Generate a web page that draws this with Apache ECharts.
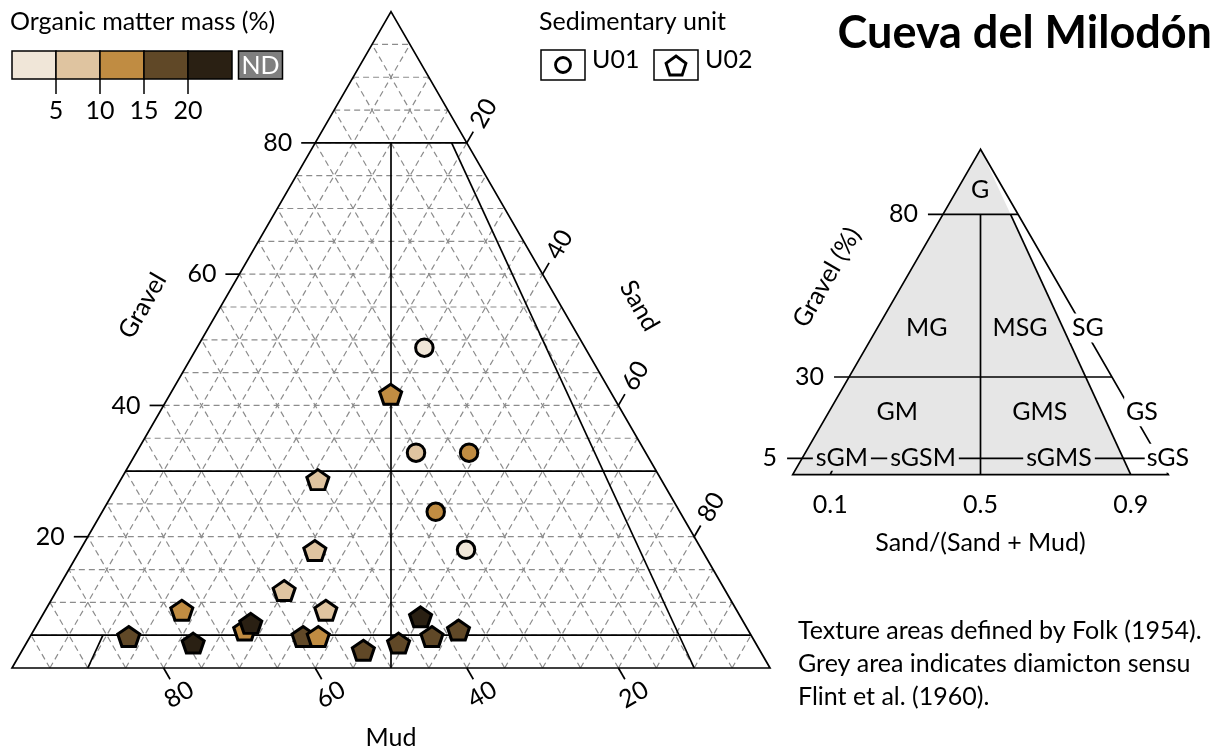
<!DOCTYPE html>
<html><head><meta charset="utf-8">
<script src="https://cdn.jsdelivr.net/npm/echarts@6/dist/echarts.min.js"></script>
<style>html,body{margin:0;padding:0;background:#fff}#c{width:1225px;height:753px}</style>
</head><body><div id="c"></div>
<script>
// ---------------- data ----------------
const gravelTicks = [20, 40, 60, 80];
const sandTicks = [20, 40, 60, 80];
const mudTicks = [80, 60, 40, 20];
const gridStep = 5;
const folkGravelLevels = [80, 30, 5];
const folkRatioLines = [[0.1, 5, 0], [0.5, 80, 0], [0.9, 80, 0]]; // ratio, gravel from, gravel to
const folkTickLabels = [80, 30, 5];
const ratioTicks = [0.1, 0.5, 0.9];
const folkClasses = ['G', 'MG', 'MSG', 'SG', 'GM', 'GMS', 'GS', 'sGM', 'sGSM', 'sGMS', 'sGS'];
const omBreaks = [5, 10, 15, 20];
const omColors = ['#f0e6d8', '#dfc4a0', '#c08c42', '#604827', '#2a2013'];
const ndColor = '#7f7f7f';
const unitNames = ['U01', 'U02'];

// U01 (circles): gravel, sand, mud (%), organic matter (%)
const u01Gravel = [48.8, 32.8, 32.8, 23.8, 18.0];
const u01Sand   = [30.0, 36.9, 43.9, 44.0, 50.9];
const u01Mud    = [21.2, 30.3, 23.3, 32.2, 31.1];
const u01OM     = [3, 7, 12, 12, 3];

// U02 (pentagons)
const u02Gravel = [41.7, 28.7, 17.9, 11.8, 8.8, 8.8, 4.8, 3.8, 5.8, 6.8, 4.8, 4.8, 2.7, 3.8, 7.8, 4.8, 5.8];
const u02Sand   = [29.1, 26.0, 31.0, 30.0, 37.0, 18.0, 13.0, 22.0, 27.8, 28.1, 36.0, 38.0, 45.0, 49.1, 50.0, 53.0, 56.0];
const u02Mud    = [29.2, 45.3, 51.1, 58.2, 54.2, 73.2, 82.2, 74.2, 66.4, 65.1, 59.2, 57.2, 52.3, 47.1, 42.2, 42.2, 38.2];
const u02OM     = [12, 7, 7, 7, 7, 12, 17, 22, 12, 22, 17, 12, 17, 17, 22, 17, 17];

// ---------------- layout ----------------
const FONT = 'Lato';
const FS = 25;
const MAIN = {left: 12, top: 11.6, width: 758, height: 656.4};
const FOLK = {left: 792.7, top: 149.3, width: 375.6, height: 325.3};
// label anchors for Folk classes, in Folk axis units [base position, gravel]
const folkClassPos = {G:[49.9,87.5], MG:[35.7,45.1], MSG:[60.5,45.1], SG:[78.6,45.1], GM:[27.8,19.3], GMS:[65.8,19.3], GS:[93.0,19.3], sGM:[13.1,5], sGSM:[34.7,5], sGMS:[70.9,5], sGS:[99.9,5]};
const GREY_FILL = '#e6e6e6';
const LW = 1.7;

function toXY(g, s, m) {
  const t = g + s + m;
  return [(s + g / 2) / t * 100, g / t * 100];
}
const C60 = 0.5, S60 = Math.sqrt(3) / 2;

function L(p1, p2, style) {
  return {type: 'line', shape: {x1: p1[0], y1: p1[1], x2: p2[0], y2: p2[1]}, style: style};
}
function T(x, y, text, o) {
  o = o || {};
  const st = {
    text: String(text), fill: '#000',
    font: (o.bold ? 'bold ' : '') + (o.size || FS) + 'px ' + FONT,
    align: o.align || 'center', verticalAlign: o.va || 'middle',
    textAlign: o.align || 'center', textVerticalAlign: o.va || 'middle'
  };
  if (o.bg) { st.backgroundColor = o.bg; st.padding = o.pad || [0, 3]; }
  return {type: 'text', x: x, y: y, rotation: o.rot || 0, z2: 20, style: st};
}

function mainRender(params, api) {
  const P = (g, s) => api.coord([s + g / 2, g]);
  const ch = [];
  const dash = {stroke: '#8c8c8c', lineWidth: 1.2, lineDash: [6, 4]};
  const solid = {stroke: '#000', lineWidth: LW};
  for (let k = gridStep; k < 100; k += gridStep) {
    ch.push(L(P(k, 0), P(k, 100 - k), dash));          // gravel = k
    ch.push(L(P(0, k), P(100 - k, k), dash));          // sand = k
    ch.push(L(P(0, 100 - k), P(100 - k, 0), dash));    // mud = k
  }
  // Folk boundaries
  folkGravelLevels.forEach(g => ch.push(L(P(g, 0), P(g, 100 - g), solid)));
  folkRatioLines.forEach(r => ch.push(L(P(r[1], r[0] * (100 - r[1])), P(r[2], r[0] * (100 - r[2])), solid)));
  // frame
  ch.push({type: 'polygon', shape: {points: [P(100, 0), P(0, 0), P(0, 100)]}, style: {fill: 'none', stroke: '#000', lineWidth: LW}});
  // gravel ticks
  gravelTicks.forEach(g => {
    const p = P(g, 0);
    ch.push(L([p[0] - 14, p[1]], p, solid));
    ch.push(T(p[0] - 23, p[1], g, {align: 'right'}));
  });
  // mud ticks
  mudTicks.forEach(m => {
    const p = P(0, 100 - m);
    ch.push(L(p, [p[0] + 13 * C60, p[1] + 13 * S60], solid));
    ch.push(T(p[0] + 31 * C60, p[1] + 31 * S60, m, {rot: Math.PI / 6}));
  });
  // sand ticks
  sandTicks.forEach(s => {
    const p = P(100 - s, s);
    ch.push(L(p, [p[0] + 13 * C60, p[1] - 13 * S60], solid));
    ch.push(T(p[0] + 34 * C60, p[1] - 34 * S60, s, {rot: Math.PI / 3}));
  });
  // axis titles
  let p = P(50, 0);
  ch.push(T(p[0] - 68 * S60, p[1] - 68 * C60, 'Gravel', {rot: Math.PI / 3}));
  p = P(50, 50);
  ch.push(T(p[0] + 68 * S60, p[1] - 68 * C60, 'Sand', {rot: -Math.PI / 3}));
  p = P(0, 50);
  ch.push(T(p[0], p[1] + 70, 'Mud'));
  return {type: 'group', children: ch};
}

function folkRender(params, api) {
  const P = (g, s) => api.coord([s + g / 2, g]);
  const A = (x, g) => api.coord([x, g]);
  const ch = [];
  const solid = {stroke: '#000', lineWidth: LW};
  ch.push({type: 'polygon', shape: {points: [P(100, 0), P(80, 0.9 * 20), P(0, 90), P(0, 0)]}, style: {fill: GREY_FILL}});
  ch.push({type: 'polygon', shape: {points: [P(100, 0), P(0, 0), P(0, 100)]}, style: {fill: 'none', stroke: '#000', lineWidth: LW}});
  folkGravelLevels.forEach((g, i) => {
    const a = P(g, 0);
    ch.push(L([a[0] - 15, a[1]], P(g, 100 - g), solid));
    ch.push(T(a[0] - 25, a[1], folkTickLabels[i], {align: 'right'}));
  });
  folkRatioLines.forEach(r => ch.push(L(P(r[1], r[0] * (100 - r[1])), P(r[2], r[0] * (100 - r[2])), solid)));
  ratioTicks.forEach(r => {
    const b = P(0, r * 100);
    ch.push(T(b[0], b[1] + 30, r.toFixed(1)));
  });
  let b = P(0, 50);
  ch.push(T(b[0], b[1] + 68, 'Sand/(Sand + Mud)'));
  b = P(50, 0);
  ch.push(T(b[0] - 69 * S60, b[1] - 69 * C60, 'Gravel (%)', {rot: Math.PI / 3}));
  const whiteBg = {SG: 1, GS: 1, sGS: 1};
  const lineBg = {sGM: 1, sGSM: 1, sGMS: 1};
  folkClasses.forEach(c => {
    const q = A(folkClassPos[c][0], folkClassPos[c][1]);
    const o = {};
    if (whiteBg[c]) { o.bg = '#fff'; o.pad = [2, 2]; }
    if (lineBg[c]) { o.bg = GREY_FILL; o.pad = [0, 3]; }
    ch.push(T(q[0], q[1], c, o));
  });
  return {type: 'group', children: ch};
}

const pentagonPath = 'path://M50,0 L97.55,34.55 L79.39,90.45 L20.61,90.45 L2.45,34.55 Z';
const u01Data = u01Gravel.map((g, i) => toXY(g, u01Sand[i], u01Mud[i]).concat([u01OM[i]]));
const u02Data = u02Gravel.map((g, i) => toXY(g, u02Sand[i], u02Mud[i]).concat([u02OM[i]]));

// ------------- legends (graphic) -------------
const graphic = [];
const boxW = 44, boxH = 28, bx0 = 12, by0 = 51;
const txt = (x, y, t, extra) => Object.assign({type: 'text', x: x, y: y, style: Object.assign({text: t, font: FS + 'px ' + FONT, fill: '#000', align: 'left', verticalAlign: 'middle'}, extra || {})});
graphic.push(txt(10, 22, 'Organic matter mass (%)'));
omColors.forEach((c, i) => {
  graphic.push({type: 'rect', shape: {x: bx0 + i * boxW, y: by0, width: boxW, height: boxH}, style: {fill: c, stroke: '#000', lineWidth: 1.5}});
});
omBreaks.forEach((v, i) => {
  const x = bx0 + (i + 1) * boxW;
  graphic.push({type: 'line', shape: {x1: x, y1: by0 + boxH, x2: x, y2: by0 + boxH + 15}, style: {stroke: '#000', lineWidth: 1.5}});
  graphic.push(txt(x, 111, String(v), {align: 'center'}));
});
graphic.push({type: 'rect', shape: {x: 238.5, y: by0, width: boxW, height: boxH}, style: {fill: ndColor, stroke: '#000', lineWidth: 1.5}});
graphic.push(txt(238.5 + boxW / 2, by0 + boxH / 2 + 1, 'ND', {align: 'center', fill: '#fff'}));

graphic.push(txt(539, 22, 'Sedimentary unit'));
[541, 654].forEach((x, i) => {
  graphic.push({type: 'rect', shape: {x: x, y: 50, width: 44, height: 30}, style: {fill: '#fff', stroke: '#000', lineWidth: 1.5}});
  graphic.push(txt(x + 51, 60, unitNames[i]));
});
graphic.push({type: 'circle', shape: {cx: 563, cy: 65, r: 7.5}, style: {fill: '#fff', stroke: '#000', lineWidth: 2.8}});
(function () {
  const pts = [];
  for (let k = 0; k < 5; k++) {
    const a = -Math.PI / 2 + k * 2 * Math.PI / 5;
    pts.push([676 + 10.5 * Math.cos(a), 66.5 + 10.5 * Math.sin(a)]);
  }
  graphic.push({type: 'polygon', shape: {points: pts}, style: {fill: '#fff', stroke: '#000', lineWidth: 2.8}});
})();
graphic.push(txt(1212, 33, 'Cueva del Milodón', {align: 'right', font: 'bold 45px ' + FONT}));
['Texture areas defined by Folk (1954).', 'Grey area indicates diamicton sensu', 'Flint et al. (1960).'].forEach((t, i) => {
  graphic.push(txt(798, 631 + i * 33, t));
});

const axisHidden = {type: 'value', min: 0, max: 100, show: false};
const option = {
  animation: false,
  backgroundColor: '#fff',
  grid: [
    Object.assign({containLabel: false}, MAIN),
    Object.assign({containLabel: false}, FOLK)
  ],
  xAxis: [Object.assign({gridIndex: 0}, axisHidden), Object.assign({gridIndex: 1}, axisHidden)],
  yAxis: [Object.assign({gridIndex: 0}, axisHidden), Object.assign({gridIndex: 1}, axisHidden)],
  visualMap: {
    type: 'piecewise', show: false, dimension: 2, seriesIndex: [2, 3],
    pieces: [
      {lt: omBreaks[0], color: omColors[0]},
      {gte: omBreaks[0], lt: omBreaks[1], color: omColors[1]},
      {gte: omBreaks[1], lt: omBreaks[2], color: omColors[2]},
      {gte: omBreaks[2], lt: omBreaks[3], color: omColors[3]},
      {gte: omBreaks[3], color: omColors[4]}
    ]
  },
  series: [
    {type: 'custom', xAxisIndex: 0, yAxisIndex: 0, data: [[50, 50]], renderItem: mainRender, z: 1, clip: false, silent: true},
    {type: 'custom', xAxisIndex: 1, yAxisIndex: 1, data: [[50, 50]], renderItem: folkRender, z: 1, clip: false, silent: true},
    {type: 'scatter', name: 'U01', xAxisIndex: 0, yAxisIndex: 0, data: u01Data, symbol: 'circle', symbolSize: 17.5,
     itemStyle: {borderColor: '#000', borderWidth: 3, opacity: 1}, z: 5},
    {type: 'scatter', name: 'U02', xAxisIndex: 0, yAxisIndex: 0, data: u02Data, symbol: pentagonPath, symbolSize: [22, 21], symbolKeepAspect: true,
     itemStyle: {borderColor: '#000', borderWidth: 3, opacity: 1}, z: 5}
  ],
  graphic: graphic
};
const chart = echarts.init(document.getElementById('c'), null, {renderer: 'canvas', width: 1225, height: 753});
chart.setOption(option);
</script>
</body></html>
